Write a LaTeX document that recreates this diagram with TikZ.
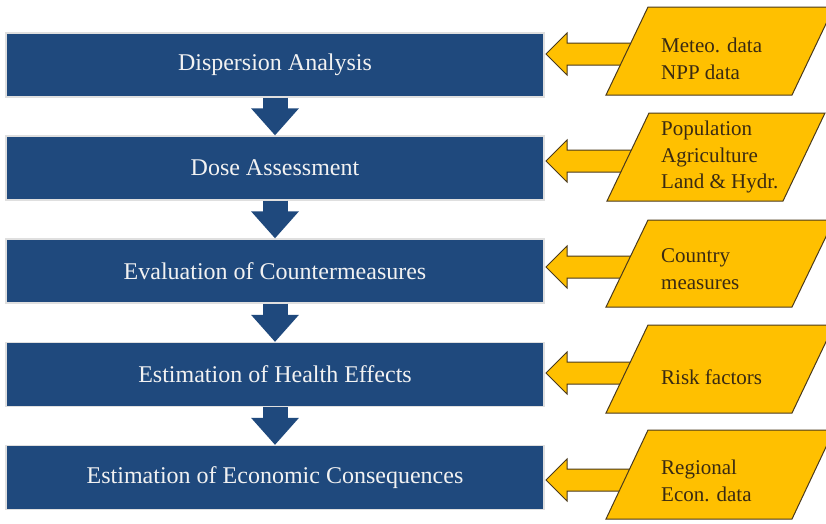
\documentclass[tikz,border=0pt]{standalone}
\usepackage{fontspec}
\setmainfont{Liberation Serif}
\usetikzlibrary{arrows.meta}
\definecolor{boxblue}{HTML}{1F497D}
\definecolor{inyellow}{HTML}{FFC000}
\definecolor{inedge}{HTML}{4A3A1C}
\definecolor{intext}{HTML}{3A2A12}
\begin{document}
\begin{tikzpicture}[x=1pt,y=-1pt,
  stepbox/.style={fill=boxblue, draw=gray!25, line width=1.2pt, minimum width=538pt,
    minimum height=64pt, inner sep=0pt, text=white!95!black,
    font=\fontsize{24}{28}\selectfont},
  downarrow/.style={boxblue, line width=25pt, -{Triangle[width=46pt,length=27pt]}},
  inpar/.style={fill=inyellow, draw=inedge, line width=1pt, line join=miter},
  inarrow/.style={fill=inyellow, draw=inedge, line width=1pt, line join=miter},
  intxt/.style={anchor=west, align=left, text=intext, inner sep=0pt,
    font=\fontsize{21}{26.5}\selectfont}
]
\useasboundingbox (0,0) rectangle (826,523);
\clip (0,0) rectangle (826,523);
\fill[white] (0,0) rectangle (826,523);

% main steps
\node[stepbox] (b1) at (275,65)    {Dispersion Analysis};
\node[stepbox] (b2) at (275,168)   {Dose Assessment};
\node[stepbox] (b3) at (275,271)   {Evaluation of Countermeasures};
\node[stepbox] (b4) at (275,374.5) {Estimation of Health Effects};
\node[stepbox] (b5) at (275,477.5) {Estimation of Economic Consequences};

% down arrows
\draw[downarrow] (b1.south) -- (b2.north);
\draw[downarrow] (b2.south) -- (b3.north);
\draw[downarrow] (b3.south) -- (b4.north);
\draw[downarrow] (b4.south) -- (b5.north);

% input arrow tips
\coordinate (t1) at (546,54);
\coordinate (t2) at (546,161);
\coordinate (t3) at (546,267);
\coordinate (t4) at (546,373);
\coordinate (t5) at (546,480);
\foreach \t in {t1,t2,t3,t4,t5}{
  \draw[inarrow] (\t) -- ++(21,-21) -- ++(0,10) -- ++(80,0) -- ++(0,22)
    -- ++(-80,0) -- ++(0,10) -- cycle;
}

% input parallelograms
\draw[inpar] (648,7)   -- (834,7)   -- (792,95)  -- (606,95)  -- cycle;
\draw[inpar] (649,113) -- (825,113) -- (783,201) -- (607,201) -- cycle;
\draw[inpar] (648,220) -- (834,220) -- (792,307) -- (606,307) -- cycle;
\draw[inpar] (648,325) -- (834,325) -- (792,413) -- (606,413) -- cycle;
\draw[inpar] (648,430) -- (834,430) -- (792,519) -- (606,519) -- cycle;

% input texts
\node[intxt] (i1) at (661,59)  {Meteo. data\\NPP data};
\node[intxt] (i2) at (661,157) {Population\\Agriculture\\Land \& Hydr.};
\node[intxt] (i3) at (661,269) {Country\\measures};
\node[intxt] (i4) at (661,377) {Risk factors};
\node[intxt] (i5) at (661,481) {Regional\\Econ. data};
\end{tikzpicture}
\end{document}
